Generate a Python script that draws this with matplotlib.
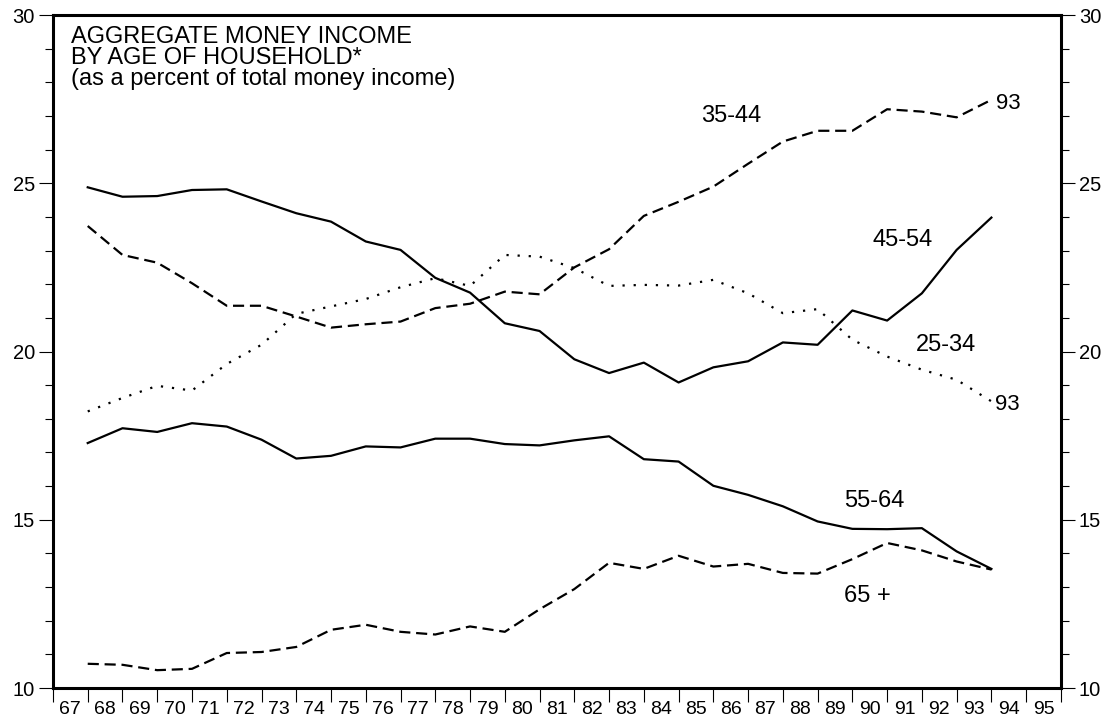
import numpy as np
import matplotlib
matplotlib.use("Agg")
from matplotlib import pyplot as plt
from matplotlib.ticker import FixedLocator, NullFormatter

plt.rcParams["font.family"] = ["Liberation Sans", "DejaVu Sans"]

# survey years 1967-1993, plotted as two-digit year
years = np.arange(67, 94)

age_25_34 = [18.22, 18.62, 18.98, 18.84, 19.63, 20.20, 21.12, 21.34, 21.56, 21.91,
             22.18, 21.95, 22.87, 22.82, 22.48, 21.95, 21.98, 21.96, 22.13,
             21.73, 21.14, 21.26, 20.35, 19.85, 19.46, 19.16, 18.52]
age_35_44 = [23.73, 22.87, 22.64, 22.03, 21.36, 21.36, 21.04, 20.71, 20.81, 20.89,
             21.29, 21.42, 21.78, 21.70, 22.50, 23.04, 24.03, 24.45, 24.90,
             25.58, 26.24, 26.56, 26.56, 27.20, 27.13, 26.96, 27.48]
age_45_54 = [24.88, 24.60, 24.62, 24.80, 24.82, 24.46, 24.11, 23.86, 23.27, 23.02,
             22.19, 21.75, 20.84, 20.61, 19.77, 19.36, 19.67, 19.08, 19.53,
             19.71, 20.27, 20.20, 21.22, 20.92, 21.73, 23.02, 23.98]
age_55_64 = [17.28, 17.72, 17.61, 17.87, 17.77, 17.38, 16.82, 16.90, 17.18, 17.15,
             17.41, 17.41, 17.25, 17.21, 17.36, 17.48, 16.80, 16.73, 16.01,
             15.74, 15.40, 14.95, 14.73, 14.72, 14.75, 14.06, 13.54]
age_65_plus = [10.72, 10.69, 10.53, 10.57, 11.04, 11.07, 11.22, 11.73, 11.88, 11.67,
               11.59, 11.83, 11.67, 12.34, 12.94, 13.72, 13.54, 13.93, 13.61,
               13.69, 13.42, 13.40, 13.83, 14.31, 14.09, 13.76, 13.52]

year_labels = [str(y) for y in range(67, 96)]
title_lines = ["AGGREGATE MONEY INCOME", "BY AGE OF HOUSEHOLD*",
               "(as a percent of total money income)"]

fig = plt.figure(figsize=(11.08, 7.19), dpi=100)
ax = fig.add_axes([0.0478, 0.0431, 0.9097, 0.9360])

lw = 1.6
ax.plot(years, age_45_54, "-", color="k", lw=lw)
ax.plot(years, age_55_64, "-", color="k", lw=lw)
ax.plot(years, age_35_44, color="k", lw=lw, dashes=(5, 2.6))
ax.plot(years, age_65_plus, color="k", lw=lw, dashes=(5, 2.6))
ax.plot(years, age_25_34, color="k", lw=lw, linestyle=(0, (1, 4)))

ax.set_xlim(66, 95)
ax.set_ylim(10, 30)

# year boundaries as ticks, labels centred between them
ax.xaxis.set_major_locator(FixedLocator(np.arange(66, 96)))
ax.xaxis.set_major_formatter(NullFormatter())
ax.set_xticks(np.arange(66.5, 95), labels=year_labels, minor=True)
ax.tick_params(axis="x", which="major", direction="out", length=10, width=0.8)
ax.tick_params(axis="x", which="minor", length=0, pad=9, labelsize=14)

ax.set_yticks(np.arange(10, 31, 5))
ax.set_yticks(np.arange(10, 31, 1), minor=True)
ax.tick_params(axis="y", which="both", left=True, right=True,
               labelleft=True, labelright=True, direction="out", width=0.8)
ax.tick_params(axis="y", which="major", length=10, labelsize=14.5, pad=3)
ax.tick_params(axis="y", which="minor", length=5.5)

for s in ax.spines.values():
    s.set_linewidth(2.2)

# title block in upper left
for i, line in enumerate(title_lines):
    ax.text(0.0175, 0.9580 - i * 0.0310, line, transform=ax.transAxes,
            fontsize=17, va="baseline", ha="left")

# series labels
ax.text(84.64, 26.83, "35-44", fontsize=17, va="baseline")
ax.text(93.12, 27.20, "93", fontsize=16, va="baseline")
ax.text(89.59, 23.15, "45-54", fontsize=17, va="baseline")
ax.text(90.84, 20.02, "25-34", fontsize=17, va="baseline")
ax.text(93.10, 18.25, "93", fontsize=16, va="baseline")
ax.text(88.76, 15.38, "55-64", fontsize=17, va="baseline")
ax.text(88.76, 12.55, "65 +", fontsize=17, va="baseline")

fig.savefig("out.png", dpi=100, facecolor="white")
